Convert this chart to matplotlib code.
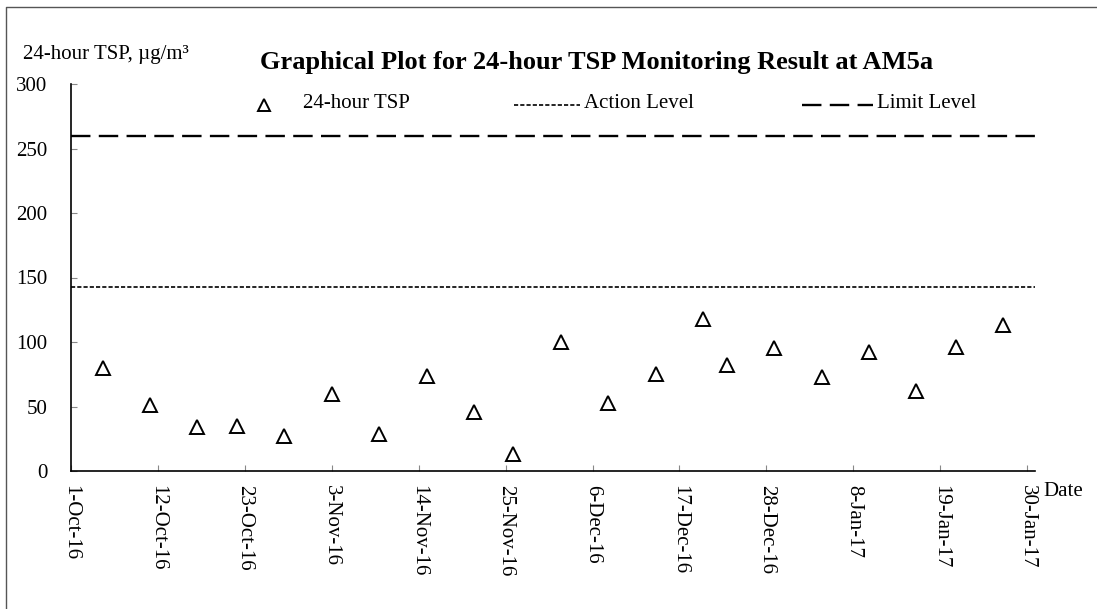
import matplotlib
matplotlib.use("Agg")
import matplotlib.pyplot as plt
from matplotlib.lines import Line2D
import datetime as dt

# sampling dates and 24-hour TSP results (ug/m3)
dates = ["2016-10-05", "2016-10-11", "2016-10-17", "2016-10-22", "2016-10-28",
         "2016-11-03", "2016-11-09", "2016-11-15", "2016-11-21", "2016-11-26",
         "2016-12-02", "2016-12-08", "2016-12-14", "2016-12-20", "2016-12-23",
         "2016-12-29", "2017-01-04", "2017-01-10", "2017-01-16", "2017-01-21",
         "2017-01-27"]
tsp = [80, 51, 34, 35, 27, 60, 29, 74, 46, 13, 100, 53, 75, 118, 82,
       95, 73, 92, 62, 96, 113]
action_level = 143
limit_level = 260
tick_labels = ["1-Oct-16", "12-Oct-16", "23-Oct-16", "3-Nov-16", "14-Nov-16",
               "25-Nov-16", "6-Dec-16", "17-Dec-16", "28-Dec-16", "8-Jan-17",
               "19-Jan-17", "30-Jan-17"]

plt.rcParams['font.family'] = ['Liberation Serif', 'DejaVu Serif']
plt.rcParams['lines.scale_dashes'] = False
fs = 15

x = [dt.datetime.strptime(d, "%Y-%m-%d") for d in dates]
x0 = dt.datetime(2016, 10, 1)
x1 = dt.datetime(2017, 1, 31)
ticks = [x0 + dt.timedelta(days=11 * i) for i in range(len(tick_labels))]

fig = plt.figure(figsize=(10.97, 6.09), dpi=100)
ax = fig.add_axes([71 / 1097, 1 - 471 / 609, (1035 - 71) / 1097, (471 - 84) / 609])

ax.plot(x, tsp, linestyle="None", marker="^", markersize=10,
        markerfacecolor="none", markeredgecolor="black", markeredgewidth=1.4)
ax.plot([x0, x1], [action_level, action_level], color="black", lw=1.2,
        dashes=(3, 1.5))
ax.plot([x0, x1], [limit_level, limit_level], color="black", lw=1.7,
        dashes=(14, 6))

ax.set_xlim(x0, x1)
ax.set_ylim(0, 300)
ax.set_yticks([0, 50, 100, 150, 200, 250, 300])
ax.set_xticks(ticks)
ax.set_xticklabels(tick_labels, rotation=-90, va="top", ha="center")
ax.tick_params(axis="x", direction="in", length=4, color="#888888",
               labelsize=fs, pad=10)
ax.tick_params(axis="y", direction="in", length=4, color="#888888",
               labelsize=fs, pad=17)
for s in ["top", "right"]:
    ax.spines[s].set_visible(False)
ax.spines["left"].set_linewidth(1.2)
ax.spines["bottom"].set_linewidth(1.2)

fig.text(597 / 1097, 1 - 62 / 609, "Graphical Plot for 24-hour TSP Monitoring Result at AM5a",
         ha="center", va="center", fontsize=19, fontweight="bold")
fig.text(23 / 1097, 1 - 55 / 609, "24-hour TSP, µg/m³", ha="left", va="center",
         fontsize=fs)
fig.text(1043 / 1097, 1 - 492 / 609, "Date", ha="left", va="center", fontsize=fs)

# legend
fig.add_artist(Line2D([264 / 1097], [1 - 105 / 609], marker="^", markersize=8,
                      markerfacecolor="none", markeredgecolor="black",
                      markeredgewidth=1.4, transform=fig.transFigure))
fig.text(303 / 1097, 1 - 104 / 609, "24-hour TSP", ha="left", va="center", fontsize=fs)
fig.add_artist(Line2D([514 / 1097, 580 / 1097], [1 - 105 / 609] * 2, color="black",
                      lw=1.2, dashes=(3, 1.5), transform=fig.transFigure))
fig.text(584 / 1097, 1 - 104 / 609, "Action Level", ha="left", va="center", fontsize=fs)
fig.add_artist(Line2D([802 / 1097, 873 / 1097], [1 - 105 / 609] * 2, color="black",
                      lw=1.7, dashes=(14, 6), transform=fig.transFigure))
fig.text(877 / 1097, 1 - 104 / 609, "Limit Level", ha="left", va="center", fontsize=fs)

# outer frame (top and left edges visible)
fig.add_artist(Line2D([6 / 1097, 6 / 1097, 1], [0, 1 - 7 / 609, 1 - 7 / 609],
                      color="#555555", lw=1, transform=fig.transFigure))

fig.savefig("out.png", dpi=100)
